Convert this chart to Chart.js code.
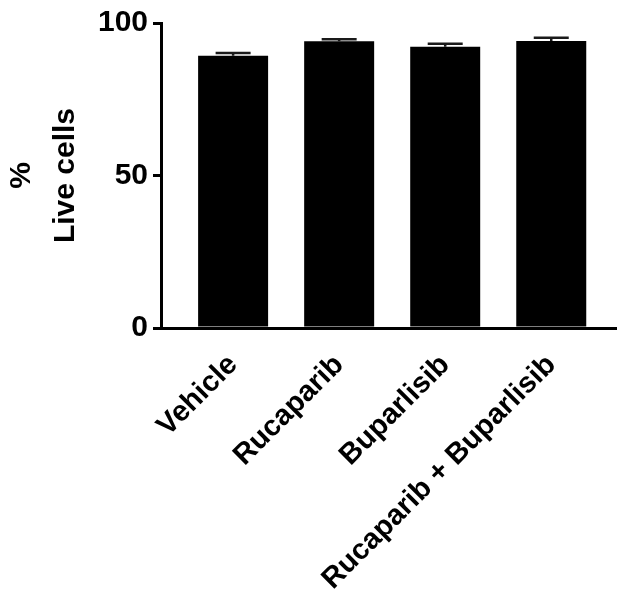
<!DOCTYPE html>
<html>
<head>
<meta charset="utf-8">
<script src="https://cdn.jsdelivr.net/npm/chart.js@4.4.0/dist/chart.umd.min.js"></script>
<style>
  html, body { margin: 0; padding: 0; background: #fff; }
  #wrap { width: 617px; height: 594px; }
</style>
</head>
<body>
<div id="wrap"><canvas id="c" width="617" height="594"></canvas></div>
<script>
// Treatment groups and measured viability (% live cells), mean with SEM
const categories = ['Vehicle', 'Rucaparib', 'Buparlisib', 'Rucaparib + Buparlisib'];
const liveCells = [89.3, 94.0, 92.2, 94.1];
const sem = [0.9, 0.7, 1.0, 1.1];
const yTicks = [0, 50, 100];

const FONT = '"Liberation Sans", Arial, Helvetica, sans-serif';

// Upward-only SEM error bars, drawn above each bar
const errorBars = {
  id: 'errorBars',
  afterDatasetsDraw(chart) {
    const ctx = chart.ctx;
    const meta = chart.getDatasetMeta(0);
    const ys = chart.scales.y;
    ctx.save();
    ctx.strokeStyle = '#1a1a1a';
    ctx.lineWidth = 2.5;
    meta.data.forEach((bar, i) => {
      const top = ys.getPixelForValue(liveCells[i] + sem[i]);
      const half = bar.width / 4;
      ctx.beginPath();
      ctx.moveTo(bar.x, bar.y);
      ctx.lineTo(bar.x, top);
      ctx.moveTo(bar.x - half, top);
      ctx.lineTo(bar.x + half, top);
      ctx.stroke();
    });
    ctx.restore();
  }
};

new Chart(document.getElementById('c'), {
  type: 'bar',
  data: {
    datasets: [{
      data: categories.map((c, i) => ({ x: i, y: liveCells[i] })),
      backgroundColor: '#000',
      borderWidth: 0,
      barPercentage: 0.66,
      categoryPercentage: 1.0
    }]
  },
  options: {
    responsive: false,
    animation: false,
    events: [],
    layout: { padding: { top: 22, right: 0, bottom: 0, left: 0 } },
    plugins: { legend: { display: false }, tooltip: { enabled: false } },
    scales: {
      x: {
        type: 'linear',
        offset: false,
        min: -0.68,
        max: 3.62,
        afterBuildTicks(scale) {
          scale.ticks = categories.map((c, i) => ({ value: i }));
        },
        afterFit(scale) { scale.height = 266; },
        grid: { display: false, drawTicks: false, offset: false },
        border: { display: true, color: '#000', width: 3 },
        ticks: {
          minRotation: 45,
          maxRotation: 45,
          autoSkip: false,
          padding: 20,
          color: '#000',
          font: { family: FONT, size: 29, weight: 'bold' },
          callback: (v) => categories[v]
        }
      },
      y: {
        min: 0,
        max: 100,
        afterBuildTicks(scale) {
          scale.ticks = yTicks.map(v => ({ value: v }));
        },
        afterFit(scale) { scale.width = 161; },
        grid: { drawOnChartArea: false, drawTicks: true, tickLength: 8, lineWidth: 3, color: '#000' },
        border: { display: true, color: '#000', width: 3 },
        ticks: {
          padding: 5,
          color: '#000',
          font: { family: FONT, size: 30, weight: 'bold' }
        },
        title: {
          display: true,
          text: ['%', 'Live cells'],
          color: '#000',
          padding: { top: 0, bottom: 12 },
          font: { family: FONT, size: 30, weight: 'bold', lineHeight: 1.45 }
        }
      }
    }
  },
  plugins: [errorBars]
});
</script>
</body>
</html>
